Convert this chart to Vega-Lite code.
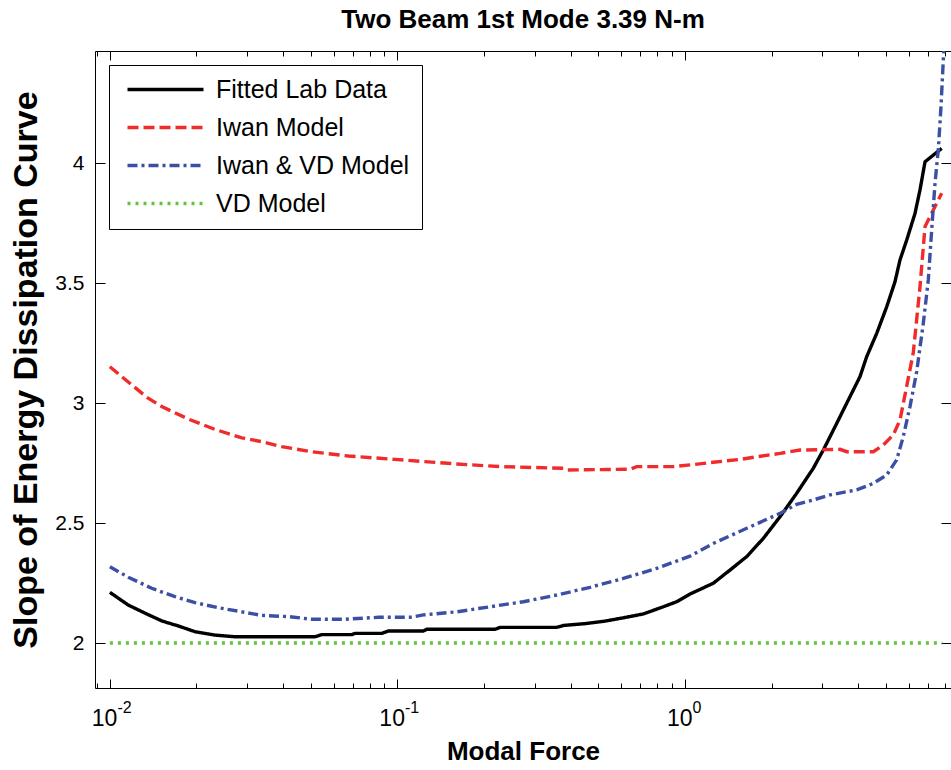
{
  "$schema": "https://vega.github.io/schema/vega-lite/v6.json",
  "width": 856,
  "height": 637,
  "autosize": {"type": "none"},
  "padding": {"left": 95, "top": 51, "right": 0, "bottom": 82},
  "background": "white",
  "config": {
    "view": {"stroke": "black", "strokeWidth": 1},
    "font": "Liberation Sans",
    "axis": {"domain": false, "grid": false, "tickColor": "black", "tickWidth": 1, "labelColor": "black", "titleColor": "black", "labelFont": "Liberation Sans", "titleFont": "Liberation Sans", "labelOverlap": false, "labelFlush": false, "labelBound": false},
    "legend": {"orient": "top-left", "offset": 14, "padding": 12, "fillColor": "white", "strokeColor": "black", "strokeWidth": 1, "symbolType": "M-5,0H5", "symbolSize": 231, "symbolOffset": 32, "symbolStrokeWidth": 3.5, "labelFontSize": 25, "labelFont": "Liberation Sans", "labelColor": "black", "labelOffset": 38, "rowPadding": 12, "labelLimit": 400, "cornerRadius": 0}
  },
  "title": {"text": "Two Beam 1st Mode 3.39 N-m", "fontSize": 26, "fontWeight": "bold", "font": "Liberation Sans", "color": "black", "anchor": "middle", "offset": 5},
  "datasets": {
    "curves": [
      {"series": "Fitted Lab Data", "force": 0.01, "slope": 2.211},
      {"series": "Fitted Lab Data", "force": 0.01159, "slope": 2.158},
      {"series": "Fitted Lab Data", "force": 0.01326, "slope": 2.124},
      {"series": "Fitted Lab Data", "force": 0.01515, "slope": 2.092},
      {"series": "Fitted Lab Data", "force": 0.0173, "slope": 2.071},
      {"series": "Fitted Lab Data", "force": 0.01978, "slope": 2.047},
      {"series": "Fitted Lab Data", "force": 0.02321, "slope": 2.033},
      {"series": "Fitted Lab Data", "force": 0.02724, "slope": 2.026},
      {"series": "Fitted Lab Data", "force": 0.05169, "slope": 2.026},
      {"series": "Fitted Lab Data", "force": 0.05454, "slope": 2.035},
      {"series": "Fitted Lab Data", "force": 0.06937, "slope": 2.035},
      {"series": "Fitted Lab Data", "force": 0.07123, "slope": 2.04},
      {"series": "Fitted Lab Data", "force": 0.08819, "slope": 2.04},
      {"series": "Fitted Lab Data", "force": 0.09298, "slope": 2.05},
      {"series": "Fitted Lab Data", "force": 0.1231, "slope": 2.05},
      {"series": "Fitted Lab Data", "force": 0.1264, "slope": 2.057},
      {"series": "Fitted Lab Data", "force": 0.2185, "slope": 2.057},
      {"series": "Fitted Lab Data", "force": 0.2274, "slope": 2.065},
      {"series": "Fitted Lab Data", "force": 0.358, "slope": 2.065},
      {"series": "Fitted Lab Data", "force": 0.3774, "slope": 2.073},
      {"series": "Fitted Lab Data", "force": 0.443, "slope": 2.08},
      {"series": "Fitted Lab Data", "force": 0.52, "slope": 2.09},
      {"series": "Fitted Lab Data", "force": 0.6101, "slope": 2.105},
      {"series": "Fitted Lab Data", "force": 0.7161, "slope": 2.121},
      {"series": "Fitted Lab Data", "force": 0.8404, "slope": 2.151},
      {"series": "Fitted Lab Data", "force": 0.9357, "slope": 2.172},
      {"series": "Fitted Lab Data", "force": 1.041, "slope": 2.204},
      {"series": "Fitted Lab Data", "force": 1.254, "slope": 2.249},
      {"series": "Fitted Lab Data", "force": 1.434, "slope": 2.304},
      {"series": "Fitted Lab Data", "force": 1.639, "slope": 2.36},
      {"series": "Fitted Lab Data", "force": 1.872, "slope": 2.436},
      {"series": "Fitted Lab Data", "force": 2.14, "slope": 2.526},
      {"series": "Fitted Lab Data", "force": 2.446, "slope": 2.624},
      {"series": "Fitted Lab Data", "force": 2.793, "slope": 2.728},
      {"series": "Fitted Lab Data", "force": 3.026, "slope": 2.804},
      {"series": "Fitted Lab Data", "force": 3.369, "slope": 2.915},
      {"series": "Fitted Lab Data", "force": 3.65, "slope": 2.999},
      {"series": "Fitted Lab Data", "force": 4.06, "slope": 3.11},
      {"series": "Fitted Lab Data", "force": 4.283, "slope": 3.193},
      {"series": "Fitted Lab Data", "force": 4.641, "slope": 3.29},
      {"series": "Fitted Lab Data", "force": 5.028, "slope": 3.401},
      {"series": "Fitted Lab Data", "force": 5.372, "slope": 3.505},
      {"series": "Fitted Lab Data", "force": 5.592, "slope": 3.596},
      {"series": "Fitted Lab Data", "force": 5.901, "slope": 3.679},
      {"series": "Fitted Lab Data", "force": 6.306, "slope": 3.79},
      {"series": "Fitted Lab Data", "force": 6.564, "slope": 3.888},
      {"series": "Fitted Lab Data", "force": 6.833, "slope": 4.005},
      {"series": "Fitted Lab Data", "force": 7.3, "slope": 4.033},
      {"series": "Fitted Lab Data", "force": 7.807, "slope": 4.061},
      {"series": "Iwan Model", "force": 0.01, "slope": 3.151},
      {"series": "Iwan Model", "force": 0.01343, "slope": 3.024},
      {"series": "Iwan Model", "force": 0.01515, "slope": 2.985},
      {"series": "Iwan Model", "force": 0.01875, "slope": 2.933},
      {"series": "Iwan Model", "force": 0.02321, "slope": 2.89},
      {"series": "Iwan Model", "force": 0.02875, "slope": 2.855},
      {"series": "Iwan Model", "force": 0.03375, "slope": 2.839},
      {"series": "Iwan Model", "force": 0.0396, "slope": 2.818},
      {"series": "Iwan Model", "force": 0.05035, "slope": 2.797},
      {"series": "Iwan Model", "force": 0.06751, "slope": 2.779},
      {"series": "Iwan Model", "force": 0.0981, "slope": 2.765},
      {"series": "Iwan Model", "force": 0.1231, "slope": 2.756},
      {"series": "Iwan Model", "force": 0.1608, "slope": 2.746},
      {"series": "Iwan Model", "force": 0.2274, "slope": 2.735},
      {"series": "Iwan Model", "force": 0.3774, "slope": 2.728},
      {"series": "Iwan Model", "force": 0.3879, "slope": 2.721},
      {"series": "Iwan Model", "force": 0.6436, "slope": 2.724},
      {"series": "Iwan Model", "force": 0.6794, "slope": 2.735},
      {"series": "Iwan Model", "force": 0.9106, "slope": 2.735},
      {"series": "Iwan Model", "force": 1.041, "slope": 2.742},
      {"series": "Iwan Model", "force": 1.254, "slope": 2.753},
      {"series": "Iwan Model", "force": 1.553, "slope": 2.765},
      {"series": "Iwan Model", "force": 1.776, "slope": 2.776},
      {"series": "Iwan Model", "force": 2.14, "slope": 2.79},
      {"series": "Iwan Model", "force": 2.511, "slope": 2.804},
      {"series": "Iwan Model", "force": 3.459, "slope": 2.807},
      {"series": "Iwan Model", "force": 3.65, "slope": 2.797},
      {"series": "Iwan Model", "force": 4.516, "slope": 2.797},
      {"series": "Iwan Model", "force": 4.893, "slope": 2.825},
      {"series": "Iwan Model", "force": 5.3, "slope": 2.867},
      {"series": "Iwan Model", "force": 5.592, "slope": 2.929},
      {"series": "Iwan Model", "force": 5.901, "slope": 3.07},
      {"series": "Iwan Model", "force": 6.221, "slope": 3.21},
      {"series": "Iwan Model", "force": 6.564, "slope": 3.485},
      {"series": "Iwan Model", "force": 6.833, "slope": 3.735},
      {"series": "Iwan Model", "force": 7.3, "slope": 3.804},
      {"series": "Iwan Model", "force": 7.807, "slope": 3.874},
      {"series": "Iwan & VD Model", "force": 0.01, "slope": 2.318},
      {"series": "Iwan & VD Model", "force": 0.01159, "slope": 2.274},
      {"series": "Iwan & VD Model", "force": 0.01398, "slope": 2.228},
      {"series": "Iwan & VD Model", "force": 0.01685, "slope": 2.193},
      {"series": "Iwan & VD Model", "force": 0.01978, "slope": 2.168},
      {"series": "Iwan & VD Model", "force": 0.02384, "slope": 2.147},
      {"series": "Iwan & VD Model", "force": 0.02875, "slope": 2.13},
      {"series": "Iwan & VD Model", "force": 0.03375, "slope": 2.115},
      {"series": "Iwan & VD Model", "force": 0.04175, "slope": 2.11},
      {"series": "Iwan & VD Model", "force": 0.05035, "slope": 2.099},
      {"series": "Iwan & VD Model", "force": 0.06574, "slope": 2.099},
      {"series": "Iwan & VD Model", "force": 0.08584, "slope": 2.107},
      {"series": "Iwan & VD Model", "force": 0.1106, "slope": 2.107},
      {"series": "Iwan & VD Model", "force": 0.1231, "slope": 2.117},
      {"series": "Iwan & VD Model", "force": 0.1608, "slope": 2.13},
      {"series": "Iwan & VD Model", "force": 0.2099, "slope": 2.151},
      {"series": "Iwan & VD Model", "force": 0.2741, "slope": 2.172},
      {"series": "Iwan & VD Model", "force": 0.358, "slope": 2.2},
      {"series": "Iwan & VD Model", "force": 0.4674, "slope": 2.232},
      {"series": "Iwan & VD Model", "force": 0.6101, "slope": 2.269},
      {"series": "Iwan & VD Model", "force": 0.797, "slope": 2.311},
      {"series": "Iwan & VD Model", "force": 1.041, "slope": 2.362},
      {"series": "Iwan & VD Model", "force": 1.254, "slope": 2.415},
      {"series": "Iwan & VD Model", "force": 1.639, "slope": 2.478},
      {"series": "Iwan & VD Model", "force": 2.14, "slope": 2.54},
      {"series": "Iwan & VD Model", "force": 2.446, "slope": 2.578},
      {"series": "Iwan & VD Model", "force": 2.793, "slope": 2.596},
      {"series": "Iwan & VD Model", "force": 3.193, "slope": 2.617},
      {"series": "Iwan & VD Model", "force": 3.954, "slope": 2.638},
      {"series": "Iwan & VD Model", "force": 4.516, "slope": 2.665},
      {"series": "Iwan & VD Model", "force": 5.028, "slope": 2.7},
      {"series": "Iwan & VD Model", "force": 5.445, "slope": 2.763},
      {"series": "Iwan & VD Model", "force": 5.741, "slope": 2.86},
      {"series": "Iwan & VD Model", "force": 6.058, "slope": 2.985},
      {"series": "Iwan & VD Model", "force": 6.391, "slope": 3.13},
      {"series": "Iwan & VD Model", "force": 6.74, "slope": 3.332},
      {"series": "Iwan & VD Model", "force": 7.015, "slope": 3.513},
      {"series": "Iwan & VD Model", "force": 7.208, "slope": 3.721},
      {"series": "Iwan & VD Model", "force": 7.401, "slope": 3.915},
      {"series": "Iwan & VD Model", "force": 7.598, "slope": 4.054},
      {"series": "Iwan & VD Model", "force": 7.765, "slope": 4.235},
      {"series": "Iwan & VD Model", "force": 7.91, "slope": 4.429},
      {"series": "Iwan & VD Model", "force": 7.987, "slope": 4.52},
      {"series": "VD Model", "force": 0.01, "slope": 2.0},
      {"series": "VD Model", "force": 7.85, "slope": 2.0}
    ]
  },
  "data": {"name": "curves"},
  "layer": [
    {
      "mark": {"type": "line", "strokeWidth": 3.4, "clip": true},
      "encoding": {
        "x": {"field": "force", "type": "quantitative",
          "scale": {"type": "log", "domain": [0.008877, 8.413], "nice": false},
          "axis": {"orient": "bottom", "values": [0.01, 0.1, 1], "labelExpr": "'10'", "tickSize": -9, "labelFontSize": 23, "labelAlign": "right", "labelOffset": 7, "labelPadding": 28, "labelBaseline": "top",
            "title": "Modal Force", "titleFontSize": 26, "titleFontWeight": "bold", "titlePadding": 8}},
        "y": {"field": "slope", "type": "quantitative",
          "scale": {"domain": [1.8125, 4.4667], "nice": false, "zero": false},
          "axis": {"orient": "left", "values": [2, 2.5, 3, 3.5, 4], "labelExpr": "format(datum.value, '~g')", "tickSize": -10, "labelFontSize": 21, "labelPadding": 21,
            "title": "Slope of Energy Dissipation Curve", "titleFontSize": 34, "titleFontWeight": "bold", "titlePadding": 11}},
        "color": {"field": "series", "type": "nominal",
          "scale": {"domain": ["Fitted Lab Data", "Iwan Model", "Iwan & VD Model", "VD Model"], "range": ["#000000", "#ef2b2b", "#3b4fa5", "#62c43b"]},
          "legend": {"title": null}},
        "strokeDash": {"field": "series", "type": "nominal",
          "scale": {"domain": ["Fitted Lab Data", "Iwan Model", "Iwan & VD Model", "VD Model"], "range": [[1, 0], [11, 5], [10, 4, 3, 4], [3, 5]]},
          "legend": {"title": null}}
      }
    },
    {
      "mark": {"type": "point", "opacity": 0, "size": 1},
      "encoding": {
        "x": {"field": "force", "type": "quantitative",
          "axis": {"orient": "bottom", "values": [0.01, 0.1, 1], "labelExpr": "datum.value < 0.05 ? '-2' : (datum.value < 0.5 ? '-1' : '0')", "ticks": false, "labelFontSize": 16, "labelAlign": "left", "labelOffset": 7, "labelPadding": 11, "labelBaseline": "top", "title": null}},
        "y": {"field": "slope", "type": "quantitative",
          "axis": {"orient": "right", "values": [2, 2.5, 3, 3.5, 4], "labels": false, "tickSize": -10, "title": null}}
      }
    },
    {
      "mark": {"type": "point", "opacity": 0, "size": 1},
      "encoding": {
        "x": {"field": "force", "type": "quantitative",
          "axis": {"orient": "bottom", "values": [0.009, 0.02, 0.03, 0.04, 0.05, 0.06, 0.07, 0.08, 0.09, 0.2, 0.3, 0.4, 0.5, 0.6, 0.7, 0.8, 0.9, 2, 3, 4, 5, 6, 7, 8], "labels": false, "tickSize": -5, "title": null}},
        "y": {"field": "slope", "type": "quantitative", "axis": null}
      }
    },
    {
      "mark": {"type": "point", "opacity": 0, "size": 1},
      "encoding": {
        "x": {"field": "force", "type": "quantitative",
          "axis": {"orient": "top", "values": [0.01, 0.1, 1], "labels": false, "tickSize": -9, "title": null}},
        "y": {"field": "slope", "type": "quantitative", "axis": null}
      }
    },
    {
      "mark": {"type": "point", "opacity": 0, "size": 1},
      "encoding": {
        "x": {"field": "force", "type": "quantitative",
          "axis": {"orient": "top", "values": [0.009, 0.02, 0.03, 0.04, 0.05, 0.06, 0.07, 0.08, 0.09, 0.2, 0.3, 0.4, 0.5, 0.6, 0.7, 0.8, 0.9, 2, 3, 4, 5, 6, 7, 8], "labels": false, "tickSize": -5, "title": null}},
        "y": {"field": "slope", "type": "quantitative", "axis": null}
      }
    }
  ],
  "resolve": {"axis": {"x": "independent", "y": "independent"}}
}
